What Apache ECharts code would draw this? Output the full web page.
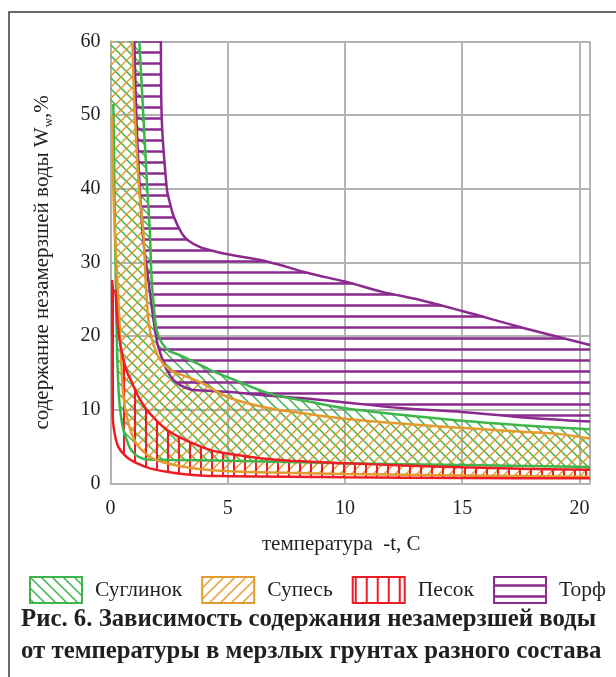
<!DOCTYPE html>
<html>
<head>
<meta charset="utf-8">
<script src="https://cdn.jsdelivr.net/npm/echarts@6/dist/echarts.min.js"></script>
<style>
  html, body { margin: 0; padding: 0; background: #fff; }
  #chart { width: 616px; height: 677px; }
</style>
</head>
<body>
<div id="chart"></div>
<script>
// soil types (legend order)
const soilNames = ['Суглинок', 'Супесь', 'Песок', 'Торф']

// boundary curves [temperature -t, unfrozen water %]
const loamUpper = [[1.23, 60], [1.4, 50], [1.57, 40], [1.68, 34], [1.75, 28], [1.85, 24], [1.97, 20.8], [2.2, 19], [2.5, 18], [2.9, 17.5], [3.4, 16.75], [4.2, 15.5], [5.1, 14.3], [6.8, 12.2], [8.5, 11.1], [10, 10.2], [12.5, 9.3], [15, 8.5], [17.5, 7.9], [20.45, 7.35]]
const loamLower = [[0.12, 51.5], [0.15, 45], [0.19, 34], [0.23, 27], [0.26, 21], [0.3, 16], [0.36, 11.8], [0.45, 9], [0.55, 7.3], [0.8, 5.0], [1.0, 4.1], [1.2, 3.6], [1.55, 3.25], [2.5, 3.2], [5, 3.1], [10, 2.75], [15, 2.5], [20.45, 2.25]]

const sandyLoamUpper = [[0.93, 60], [1.04, 50], [1.22, 40], [1.4, 34], [1.54, 25.3], [1.68, 20.8], [2.04, 17.2], [2.54, 15.4], [3.25, 14.5], [3.8, 13.8], [5.1, 11.6], [6.8, 10.2], [8.5, 9.4], [10, 8.8], [12.5, 8.1], [15, 7.55], [17.75, 7.0], [19.2, 6.7], [20.45, 6.1]]
const sandyLoamLower = [[0.06, 50], [0.12, 40], [0.19, 34], [0.3, 27], [0.4, 20.8], [0.55, 11.8], [0.76, 8.2], [1.1, 5.45], [1.68, 3.64], [2.4, 2.74], [3.5, 2.06], [5.1, 1.65], [7.5, 1.45], [10, 1.3], [15, 1.1], [20.45, 0.93]]

const sandUpper = [[0.2, 26.3], [0.23, 25.3], [0.33, 20.8], [0.5, 17.5], [0.7, 15.2], [0.9, 13.8], [1.19, 11.8], [1.6, 9.8], [2.4, 7.3], [3.4, 5.6], [4.2, 4.6], [5.1, 4.0], [6.8, 3.3], [8.5, 2.95], [10, 2.75], [12.5, 2.45], [15, 2.2], [17.5, 2.0], [20.45, 1.85]]
const sandLower = [[0.07, 27.6], [0.08, 20], [0.09, 9.5], [0.15, 7.3], [0.33, 5.0], [0.69, 3.6], [1.12, 2.75], [1.68, 2.05], [2.8, 1.4], [3.8, 1.1], [5, 1.0], [10, 0.85], [15, 0.75], [20.45, 0.7]]

const peatUpper = [[2.15, 60], [2.18, 50], [2.4, 40], [2.5, 38.5], [2.7, 36.2], [3.05, 33.9], [3.3, 33], [3.8, 32.1], [4.5, 31.45], [5, 31.1], [6.7, 30.1], [8.5, 28.5], [10, 27.4], [11.6, 26], [13.2, 24.9], [15, 23.4], [17.5, 21.2], [20.45, 18.8]]
const peatLower = [[1.02, 60], [1.1, 50], [1.25, 40], [1.4, 33], [1.6, 28], [1.8, 23], [2.0, 19], [2.2, 17], [2.4, 15.4], [2.7, 14], [3.0, 13.3], [3.5, 12.7], [4.2, 12.6], [5.1, 12.4], [6.8, 11.9], [8.5, 11.5], [10, 11.0], [12.5, 10.2], [15, 9.7], [17.5, 9.0], [20.45, 8.4]]

const xMax = 20.45
const yMax = 60

const colors = ['#3db54a', '#e39b2f', '#ee1c25', '#8a2a8e']
const FONT = '"Liberation Serif", "Times New Roman", serif'

// hatch fills, 11px tiles
const hatch = (kind, color, width) => {
  const s = 11
  const c = document.createElement('canvas')
  c.width = s
  c.height = s
  const g = c.getContext('2d')
  g.strokeStyle = color
  g.lineWidth = width
  g.beginPath()
  if (kind === 'back') {
    g.moveTo(-2, -2); g.lineTo(s + 2, s + 2)
    g.moveTo(-2, s - 2); g.lineTo(2, s + 2)
    g.moveTo(s - 2, -2); g.lineTo(s + 2, 2)
  } else if (kind === 'fwd') {
    g.moveTo(-2, s + 2); g.lineTo(s + 2, -2)
    g.moveTo(-2, 2); g.lineTo(2, -2)
    g.moveTo(s - 2, s + 2); g.lineTo(s + 2, s - 2)
  } else if (kind === 'vert') {
    g.moveTo(3, 0); g.lineTo(3, s)
  } else {
    g.moveTo(0, 8.5); g.lineTo(s, 8.5)
  }
  g.stroke()
  return { image: c, repeat: 'repeat' }
}

const patterns = [
  hatch('back', colors[0], 1.5),
  hatch('fwd', colors[1], 1.5),
  hatch('vert', colors[2], 2),
  hatch('horiz', colors[3], 2.5)
]

const bands = [
  { upper: loamUpper, lower: loamLower, toAxis: true },
  { upper: sandyLoamUpper, lower: sandyLoamLower, toAxis: true },
  { upper: sandUpper, lower: sandLower, toAxis: false },
  { upper: peatUpper, lower: peatLower, toAxis: false }
]

const fillSeries = bands.map((b, i) => ({
  name: soilNames[i],
  type: 'custom',
  z: 1,
  silent: true,
  data: [0],
  renderItem: (params, api) => {
    let pts = b.upper.concat(b.lower.slice().reverse())
    // above the start of the lower curve the hatch runs to the y axis
    if (b.toAxis) pts = pts.concat([[0, b.lower[0][1]], [0, yMax]])
    return {
      type: 'polygon',
      shape: { points: pts.map(p => api.coord(p)) },
      style: { fill: patterns[i], stroke: null }
    }
  }
}))

const lineSeries = []
;[3, 0, 1, 2].forEach(i => {
  ;[bands[i].upper, bands[i].lower].forEach(d => {
    lineSeries.push({
      name: soilNames[i],
      type: 'line',
      z: 3,
      data: d,
      smooth: 0.35,
      symbol: 'none',
      silent: true,
      lineStyle: { color: colors[i], width: 2.5 }
    })
  })
})

const chart = echarts.init(document.getElementById('chart'))
chart.setOption({
  animation: false,
  backgroundColor: '#fff',
  title: {
    text: 'Рис. 6. Зависимость содержания незамерзшей воды\nот температуры в мерзлых грунтах разного состава',
    left: 21,
    top: 604,
    padding: 0,
    textStyle: { fontFamily: FONT, fontSize: 24.8, fontWeight: 'bold', color: '#231f20', lineHeight: 32 }
  },
  legend: {
    left: 29,
    top: 576,
    padding: 0,
    itemWidth: 52,
    itemHeight: 26,
    itemGap: 19,
    selectedMode: false,
    textStyle: { fontFamily: FONT, fontSize: 21.5, color: '#231f20', padding: [0, 0, 0, 8] },
    data: soilNames.map((n, i) => ({
      name: n,
      icon: 'rect',
      itemStyle: { color: patterns[i], borderColor: colors[i], borderWidth: 2 }
    }))
  },
  graphic: [{
    type: 'polyline',
    shape: { points: [[9, 677], [9, 12], [616, 12]] },
    style: { stroke: '#3a3a3a', lineWidth: 1.5, fill: null }
  }],
  grid: { left: 110.5, right: 26, top: 41.3, bottom: 193.5 },
  xAxis: {
    type: 'value',
    min: 0,
    max: xMax,
    interval: 5,
    name: 'температура  -t, C',
    nameLocation: 'middle',
    nameGap: 50,
    nameTextStyle: { fontFamily: FONT, fontSize: 21, color: '#231f20', padding: [0, 18, 0, 0] },
    axisLine: { lineStyle: { color: '#b4b4b4', width: 2 } },
    axisTick: { show: false },
    axisLabel: { fontFamily: FONT, fontSize: 20, color: '#231f20', margin: 15, showMaxLabel: false },
    splitLine: { lineStyle: { color: '#b4b4b4', width: 2 } }
  },
  yAxis: {
    type: 'value',
    min: 0,
    max: yMax,
    interval: 10,
    name: 'содержание незамерзшей воды W{sub|w},%',
    nameLocation: 'middle',
    nameGap: 55,
    nameTextStyle: {
      fontFamily: FONT, fontSize: 21, color: '#231f20',
      rich: { sub: { fontFamily: FONT, fontSize: 13, color: '#231f20', padding: [13, 0, 0, 0] } }
    },
    axisLine: { show: true, lineStyle: { color: '#b4b4b4', width: 2 } },
    axisTick: { show: false },
    axisLabel: { fontFamily: FONT, fontSize: 20, color: '#231f20', margin: 10 },
    splitLine: { lineStyle: { color: '#b4b4b4', width: 2 } }
  },
  series: fillSeries.concat(lineSeries)
})
</script>
</body>
</html>
